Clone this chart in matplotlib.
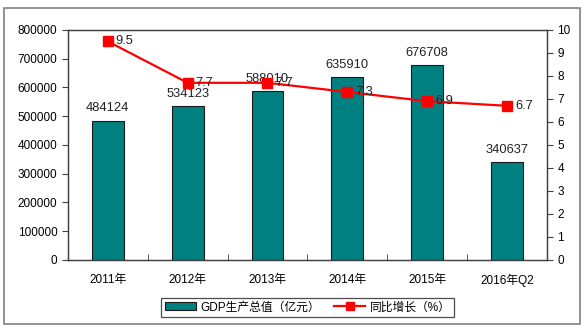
import matplotlib
matplotlib.use('Agg')
import matplotlib.pyplot as plt
from matplotlib.patches import Rectangle
from matplotlib.lines import Line2D
from matplotlib.patches import Patch

plt.rcParams['font.family'] = ['Liberation Sans', 'Noto Sans CJK SC', 'DejaVu Sans']

years = ['2011年', '2012年', '2013年', '2014年', '2015年', '2016年Q2']
gdp = [484124, 534123, 588010, 635910, 676708, 340637]
growth = [9.5, 7.7, 7.7, 7.3, 6.9, 6.7]

fig = plt.figure(figsize=(5.85, 3.32), dpi=100)
# grey frame round the whole chart
fig.patches.append(Rectangle((4 / 585, 8 / 332), 576 / 585, 316 / 332,
                             transform=fig.transFigure, fill=False,
                             edgecolor='#808080', linewidth=1.2))

ax = fig.add_axes([0.116, 0.217, 0.819, 0.693])
x = list(range(len(years)))
ax.bar(x, gdp, width=0.4, color='#008080', edgecolor='#1a1a1a', linewidth=0.8, zorder=2)
for xi, v in zip(x, gdp):
    ax.text(xi, v + 22000, str(v), ha='center', va='bottom', fontsize=9.3, color='#222222')

ax.set_xlim(-0.5, len(years) - 0.5)
ax.set_ylim(0, 800000)
ax.set_yticks(range(0, 800001, 100000))
ax.set_xticks(x)
ax.set_xticklabels(years, fontsize=8.5)
ax.set_xticks([i + 0.5 for i in x[:-1]], minor=True)
ax.tick_params(axis='x', which='major', length=0, pad=10)
ax.tick_params(axis='x', which='minor', direction='in', length=4, color='#404040')
ax.tick_params(axis='y', direction='out', length=4, labelsize=8.5, color='#404040')
for s in ax.spines.values():
    s.set_color('#404040')
    s.set_linewidth(0.9)

ax2 = ax.twinx()
ax2.plot(x, growth, color='#ff0000', linewidth=1.6, marker='s', markersize=7,
         markerfacecolor='#ff0000', markeredgecolor='#ff0000', zorder=3)
for xi, v in zip(x, growth):
    ax2.text(xi + 0.1, v, str(v), ha='left', va='center', fontsize=9.3, color='#222222')
ax2.set_ylim(0, 10)
ax2.set_yticks(range(0, 11))
ax2.tick_params(axis='y', direction='out', length=4, labelsize=8.5, color='#404040')
for s in ax2.spines.values():
    s.set_color('#404040')
    s.set_linewidth(0.9)

handles = [Patch(facecolor='#008080', edgecolor='#1a1a1a', linewidth=0.8),
           Line2D([0], [0], color='#ff0000', linewidth=1.6, marker='s', markersize=6)]
labels = ['GDP生产总值（亿元）', '同比增长（%）']
leg = fig.legend(handles, labels, loc='center', bbox_to_anchor=(0.526, 0.074),
                 ncol=2, fontsize=8.5, frameon=True, fancybox=False,
                 edgecolor='#202020', borderpad=0.3, handlelength=2.6,
                 columnspacing=1.2, handletextpad=0.4)
leg.get_frame().set_linewidth(0.9)

fig.savefig('out.png', dpi=100)
